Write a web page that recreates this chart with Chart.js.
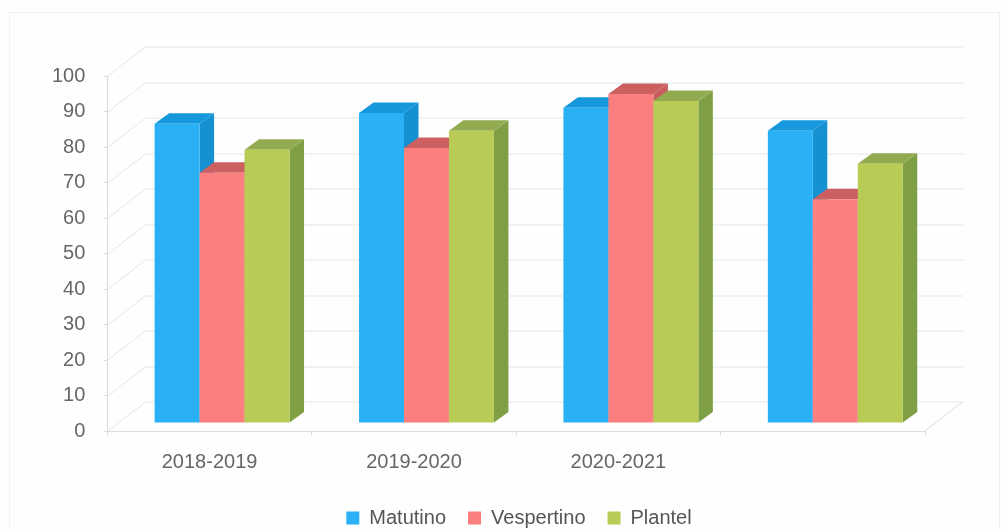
<!DOCTYPE html>
<html><head><meta charset="utf-8">
<style>html,body{margin:0;padding:0;background:#fefefe}canvas{display:block}</style>
<script src="https://cdn.jsdelivr.net/npm/chart.js@4"></script>
</head><body>
<canvas id="c" width="1008" height="529"></canvas>
<script>
const categories = ['2018-2019','2019-2020','2020-2021',''];
const matutino = [84.3,87.3,88.8,82.3];
const vespertino = [70.5,77.5,92.7,63];
const plantel = [77,82.3,90.7,73];
const yTicks = {min:0,max:100,step:10};

const FRONT = ['#29B0F5','#FB7F7F','#B8CC55'];
const SIDE  = ['#1590D0','#C85C5E','#7F9F45'];
const TOP   = ['#1598DC','#CC5F60','#92AB50'];
const WALL = {dx:38,dy:-29.5};
const BAR = {ox:12.5,oy:-8,dx:14.5,dy:-10.5};
const LEGEND_SHIFT = {x:39.5,y:-3};

const poly=(ctx,pts,fill)=>{ctx.beginPath();pts.forEach((p,i)=>i?ctx.lineTo(p[0],p[1]):ctx.moveTo(p[0],p[1]));ctx.closePath();ctx.fillStyle=fill;ctx.fill();};

const threeD = {
  id:'threeD',
  afterLayout(chart){
    const lg=chart.legend;
    lg.left+=LEGEND_SHIFT.x;lg.right+=LEGEND_SHIFT.x;
    lg.top+=LEGEND_SHIFT.y;lg.bottom+=LEGEND_SHIFT.y;
  },
  beforeDraw(chart){
    const {ctx}=chart;
    ctx.save();ctx.strokeStyle='#f0f2f2';ctx.lineWidth=1;
    ctx.strokeRect(9.5,12.5,990,530);
    ctx.restore();
  },
  beforeDatasetsDraw(chart){
    const {ctx,scales:{x,y}}=chart;
    const l=x.left,r=x.right;
    ctx.save();ctx.lineWidth=1;
    y.ticks.forEach(t=>{
      const py=Math.round(y.getPixelForValue(t.value))+.5;
      ctx.strokeStyle='#dfe8ea';
      ctx.beginPath();ctx.moveTo(l+WALL.dx,py+WALL.dy);ctx.lineTo(r+WALL.dx,py+WALL.dy);ctx.stroke();
      ctx.strokeStyle='#e3e6e6';
      ctx.beginPath();ctx.moveTo(l,py);ctx.lineTo(l+WALL.dx,py+WALL.dy);ctx.stroke();
    });
    const by=y.getPixelForValue(0);
    ctx.strokeStyle='#d8dcdc';
    ctx.beginPath();ctx.moveTo(r,by);ctx.lineTo(r+WALL.dx,by+WALL.dy);ctx.stroke();
    ctx.restore();
  },
  beforeDatasetDraw(){return false;},
  afterDatasetsDraw(chart){
    const {ctx}=chart;
    ctx.save();ctx.translate(BAR.ox,BAR.oy);
    chart.data.datasets.forEach((ds,i)=>{
      chart.getDatasetMeta(i).data.forEach(el=>{
        const {x,y,base,width}=el.getProps(['x','y','base','width'],true);
        const L=x-width/2,R=x+width/2;
        poly(ctx,[[R,y],[R+BAR.dx,y+BAR.dy],[R+BAR.dx,base+BAR.dy],[R,base]],SIDE[i]);
        poly(ctx,[[L,y],[L+BAR.dx,y+BAR.dy],[R+BAR.dx,y+BAR.dy],[R,y]],TOP[i]);
        el.draw(ctx);
      });
    });
    ctx.restore();
  }
};

new Chart(document.getElementById('c'),{
  type:'bar',
  data:{labels:categories,datasets:[
    {label:'Matutino',data:matutino,backgroundColor:FRONT[0]},
    {label:'Vespertino',data:vespertino,backgroundColor:FRONT[1]},
    {label:'Plantel',data:plantel,backgroundColor:FRONT[2]}
  ]},
  plugins:[threeD],
  options:{
    responsive:false,animation:false,
    layout:{padding:{left:34,right:83,top:76,bottom:-12}},
    datasets:{bar:{categoryPercentage:0.66,barPercentage:1,borderWidth:0}},
    plugins:{
      tooltip:{enabled:false},
      legend:{position:'bottom',labels:{boxWidth:13,boxHeight:13,padding:22,color:'#555',font:{family:'"Liberation Sans"',size:20}}}
    },
    scales:{
      x:{grid:{drawOnChartArea:false,color:'#d8dcdc',tickLength:4},border:{color:'#d8dcdc'},
         ticks:{color:'#666',padding:15,maxRotation:0,font:{family:'"Liberation Sans"',size:20}}},
      y:{min:yTicks.min,max:yTicks.max,
         grid:{drawOnChartArea:false,color:'#d8dcdc',tickLength:4},border:{color:'#d8dcdc'},
         ticks:{stepSize:yTicks.step,color:'#666',padding:18,font:{family:'"Liberation Sans"',size:20}}}
    }
  }
});
</script>
</body></html>
